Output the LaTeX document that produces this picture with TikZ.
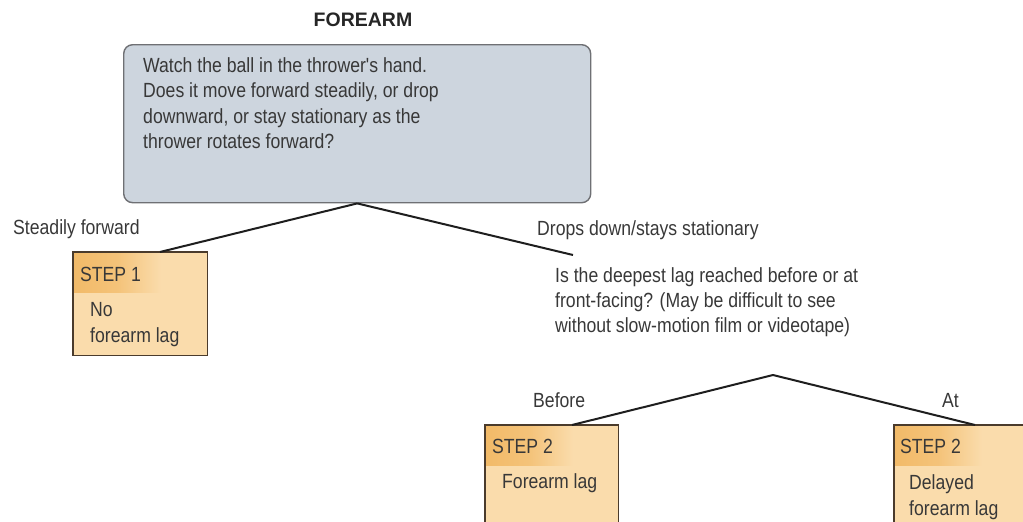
\documentclass[tikz,border=0pt]{standalone}
\usepackage{fontspec}
\setmainfont{Liberation Sans}
\newfontfamily\cond[FakeStretch=0.86]{Liberation Sans}
\definecolor{qfill}{HTML}{CDD5DE}
\definecolor{qdraw}{HTML}{6F7074}
\definecolor{stepfill}{HTML}{FADCAC}
\definecolor{stephead}{HTML}{F2BA68}
\definecolor{stepdraw}{HTML}{4A3B2C}
\definecolor{ink}{HTML}{383838}
\definecolor{wire}{HTML}{1E1E1E}
\tikzset{
  titletxt/.style={font=\bfseries\fontsize{19.5}{24}\selectfont, text=black!85, inner sep=0pt},
  txt/.style={font=\cond\fontsize{20.5}{25.5}\selectfont, text=ink, inner sep=0pt, align=left},
  qbox/.style={rectangle, rounded corners=9pt, fill=qfill, draw=qdraw, line width=1.4pt, inner sep=0pt},
  stepbox/.style={rectangle, fill=stepfill, inner sep=0pt},
  stepedge/.style={draw=stepdraw, line width=1.5pt},
  link/.style={draw=wire, line width=2pt},
}
\begin{document}
\begin{tikzpicture}[x=1pt, y=-1pt]
\useasboundingbox (0,0) rectangle (1023,522);

% title
\node[titletxt, anchor=base] (title) at (363,27) {FOREARM};

% first question (multi-line nodes are placed by the baseline of their last line)
\node[qbox, anchor=north west, minimum width=467pt, minimum height=158pt] (q1) at (123,44) {};
\node[txt, anchor=base west] (q1text) at (143,148.5)
  {Watch the ball in the thrower's hand.\\Does it move forward steadily, or drop\\downward, or stay stationary as the\\thrower rotates forward?};

% step boxes
\node[stepbox, anchor=north west, minimum width=134pt, minimum height=103pt] (s1) at (73,252) {};
\node[stepbox, anchor=north west, minimum width=133pt, minimum height=120pt] (s2a) at (485,425) {};
\node[stepbox, anchor=north west, minimum width=134pt, minimum height=120pt] (s2b) at (894,425) {};

% darker heading band of each step box
\foreach \b in {s1,s2a,s2b}{
  \shade[left color=stephead, right color=stepfill, middle color=stephead!75!stepfill]
    (\b.north west) rectangle ([xshift=88pt,yshift=-40pt]\b.north west);
  \draw[stepedge] (\b.north west) rectangle (\b.south east);
}

% branch points
\coordinate (s1top) at (160,252);
\coordinate (q2top) at (573,255);
\coordinate (q2split) at (773,375);
\coordinate (s2atop) at (572,425);
\coordinate (s2btop) at (975,425);

\draw[link] (q1.south) -- (s1top);
\draw[link] (q1.south) -- (q2top);
\draw[link] (q2split) -- (s2atop);
\draw[link] (q2split) -- (s2btop);

% branch labels
\node[txt, anchor=base west] (lsteady) at (13,234) {Steadily forward};
\node[txt, anchor=base west] (ldrops) at (537,235) {Drops down/stays stationary};
\node[txt, anchor=base west] (lbefore) at (533,407) {Before};
\node[txt, anchor=base west] (lat) at (942,407) {At};

% second question
\node[txt, anchor=base west, font=\cond\fontsize{20.5}{25}\selectfont] (q2text) at (555,332)
  {Is the deepest lag reached before or at\\front-facing? (May be difficult to see\\without slow-motion film or videotape)};

% step texts
\node[txt, anchor=base west] (s1head) at (80,281) {STEP 1};
\node[txt, anchor=base west, font=\cond\fontsize{20.5}{26}\selectfont] (s1text) at (90,342) {No\\forearm lag};
\node[txt, anchor=base west] (s2ahead) at (492,453) {STEP 2};
\node[txt, anchor=base west] (s2atext) at (502,488) {Forearm lag};
\node[txt, anchor=base west] (s2bhead) at (900,453) {STEP 2};
\node[txt, anchor=base west, font=\cond\fontsize{20.5}{26}\selectfont] (s2btext) at (909,515) {Delayed\\forearm lag};
\end{tikzpicture}
\end{document}
